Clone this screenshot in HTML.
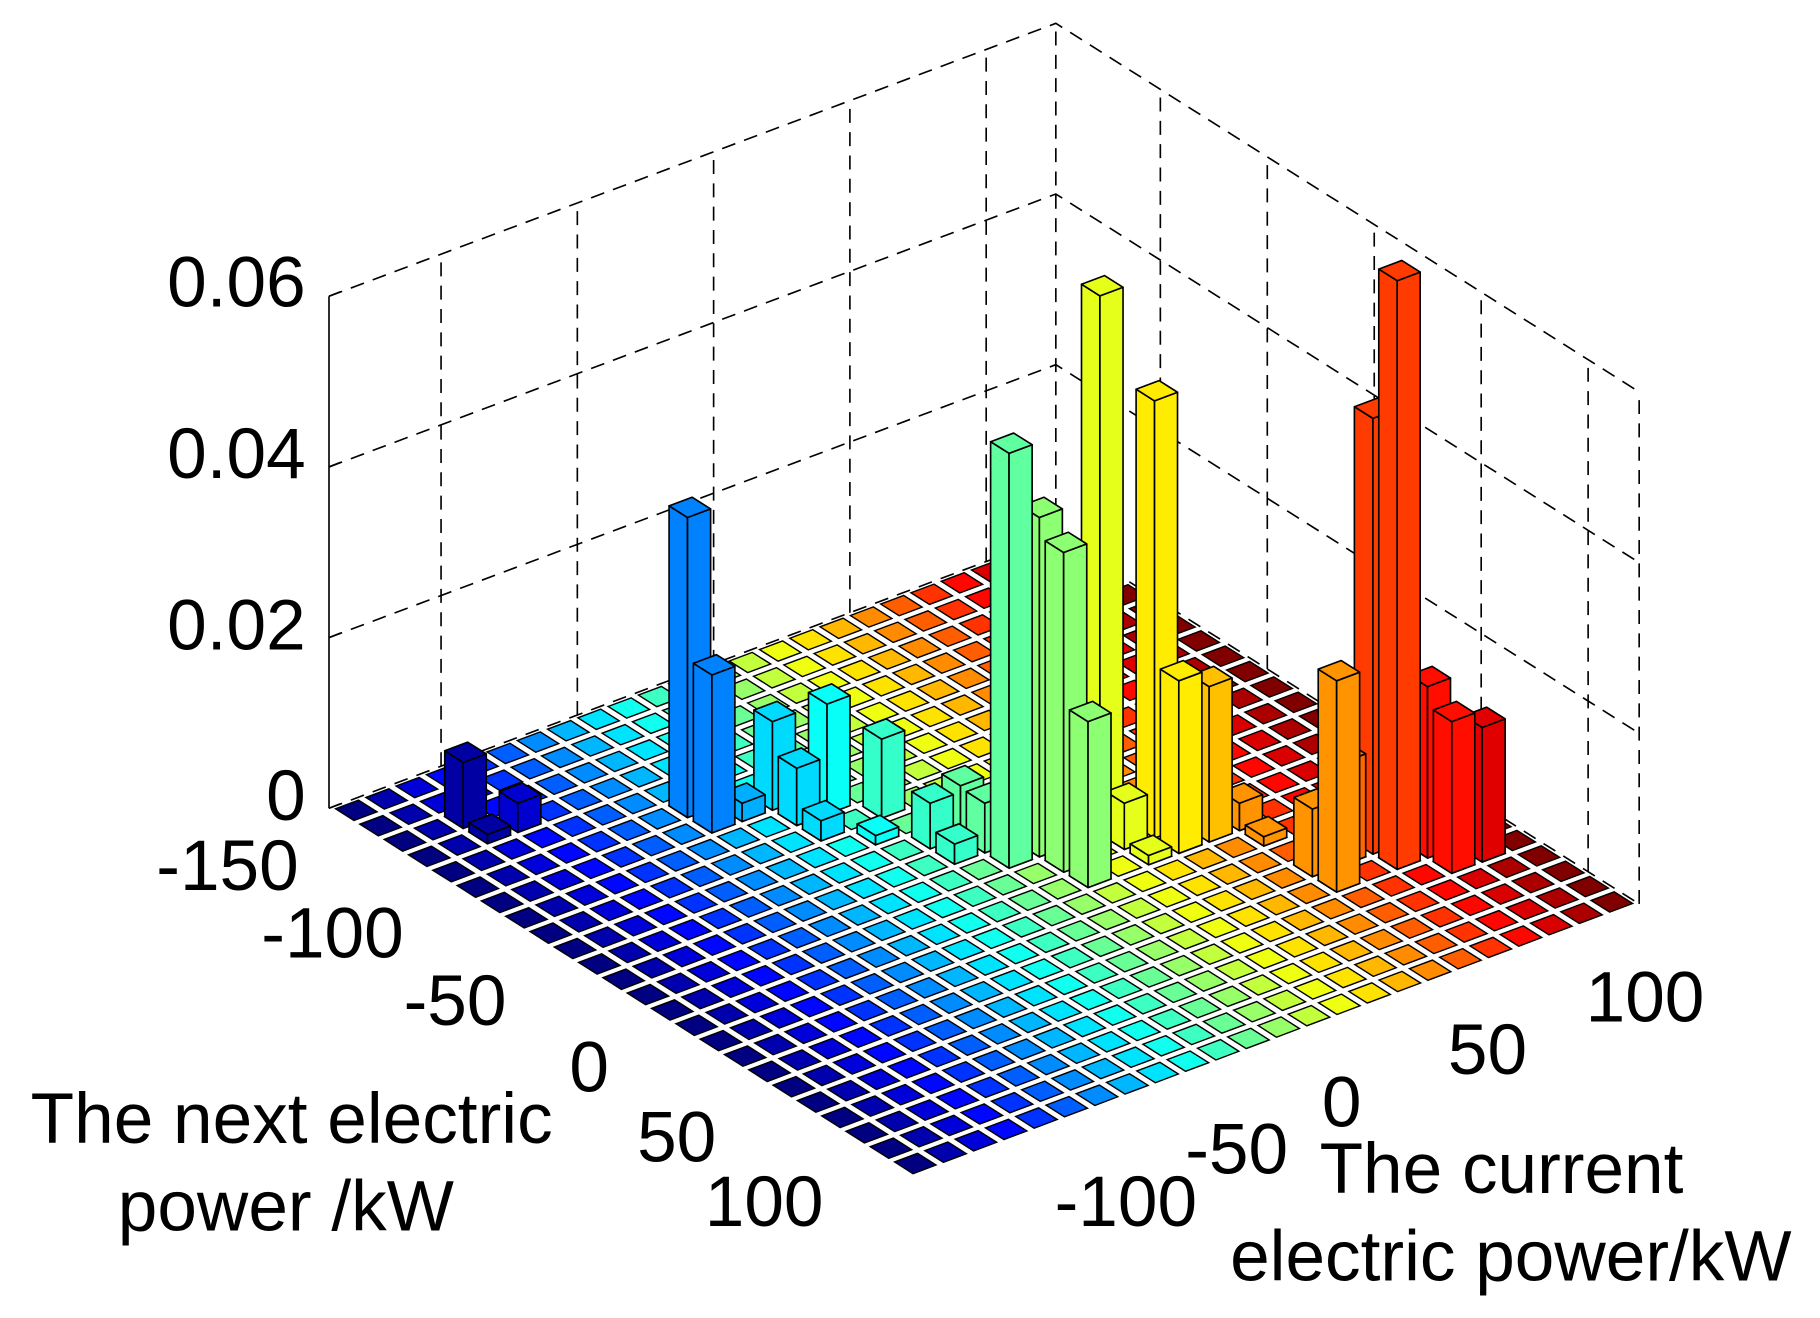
<!DOCTYPE html>
<html><head><meta charset="utf-8">
<style>html,body{margin:0;padding:0;background:#fff;}svg{display:block;}</style>
</head><body>
<svg id="s" xmlns="http://www.w3.org/2000/svg" width="1820" height="1318" viewBox="0 0 1560 1130" preserveAspectRatio="none" font-family="Liberation Sans, Arial, sans-serif">
<rect width="1560" height="1130" fill="#fff"/>
<g id="walls" stroke="#000" stroke-width="1.4" stroke-dasharray="12 8" fill="none"></g>
<g id="tiles" stroke="#000" stroke-width="1.2"></g>
<g id="bars" stroke="#000" stroke-width="1.4" stroke-linejoin="round"></g>
<g id="axis" stroke="#000" stroke-width="1.4"></g>
<g font-size="61" fill="#000">
<text x="262" y="263" text-anchor="end">0.06</text>
<text x="262" y="410" text-anchor="end">0.04</text>
<text x="262" y="557" text-anchor="end">0.02</text>
<text x="262" y="703" text-anchor="end">0</text>
<text x="195" y="763" text-anchor="middle">-150</text>
<text x="285" y="821" text-anchor="middle">-100</text>
<text x="390" y="879" text-anchor="middle">-50</text>
<text x="505" y="936" text-anchor="middle">0</text>
<text x="580" y="996" text-anchor="middle">50</text>
<text x="655" y="1051" text-anchor="middle">100</text>
<text x="965" y="1051" text-anchor="middle">-100</text>
<text x="1060" y="1006" text-anchor="middle">-50</text>
<text x="1150" y="966" text-anchor="middle">0</text>
<text x="1275" y="921" text-anchor="middle">50</text>
<text x="1410" y="876" text-anchor="middle">100</text>
<text x="250" y="980" text-anchor="middle">The next electric</text>
<text x="245" y="1055" text-anchor="middle">power /kW</text>
<text x="1287" y="1023" text-anchor="middle">The current</text>
<text x="1295" y="1098" text-anchor="middle">electric power/kW</text>
</g>
</svg>
<script>
(function(){
var NS="http://www.w3.org/2000/svg";
var N=24, L=[282,693], B=[905,459], F=[782,1009], ZH=439;
var u=[(B[0]-L[0])/N,(B[1]-L[1])/N], v=[(F[0]-L[0])/N,(F[1]-L[1])/N];
function P(i,j,z){return [L[0]+i*u[0]+j*v[0], L[1]+i*u[1]+j*v[1]-(z||0)];}
function el(g,tag,attrs){var e=document.createElementNS(NS,tag);for(var k in attrs)e.setAttribute(k,attrs[k]);document.getElementById(g).appendChild(e);return e;}
function poly(g,pts,fill){el(g,"polygon",{points:pts.map(function(p){return p[0].toFixed(1)+","+p[1].toFixed(1);}).join(" "),fill:fill});}
function line(g,a,b){el(g,"line",{x1:a[0],y1:a[1],x2:b[0],y2:b[1]});}
function cl(x){return Math.max(0,Math.min(1,x));}
function jet(t){t=cl(t);var r=cl(1.5-Math.abs(4*t-3)),g=cl(1.5-Math.abs(4*t-2)),b=cl(1.5-Math.abs(4*t-1));return "rgb("+Math.round(r*255)+","+Math.round(g*255)+","+Math.round(b*255)+")";}
[0,1,2,3].forEach(function(k){var z=ZH*k/3;var a=P(0,0,z),b=P(N,0,z),c=P(N,N,z);el("walls","polyline",{points:a.join(",")+" "+b.join(",")+" "+c.join(",")});});
line("walls",P(N,0,0),P(N,0,ZH));
for(var k=0;k<5;k++){var i=3.7+4.5*k;line("walls",P(i,0,0),P(i,0,ZH));var j=4.3+4.4*k;line("walls",P(N,j,0),P(N,j,ZH));}
line("walls",P(N,N,0),P(N,N,ZH));
line("axis",P(0,0,0),P(0,0,ZH));
for(var k=0;k<4;k++){var z=ZH*k/3;line("axis",P(0,0,z),[P(0,0,z)[0]+10,P(0,0,z)[1]-4]);}
var a=0.12,b=0.88;
for(var i=0;i<N;i++)for(var j=0;j<N;j++){
 poly("tiles",[P(i+a,j+a),P(i+b,j+a),P(i+b,j+b),P(i+a,j+b)],jet(i/(N-1)));
}
var raw=[[2,405,645],[3,445,680],[2,425,715],
[7,590,435],[7,610,570],[8,605,600],[8,635,680],
[9,665,610],[9,690,650],[10,715,595],[9,705,695],[10,745,710],[11,760,625],
[11,790,680],[11,830,715],[12,820,665],[12,855,680],
[12,875,380],[13,890,435],[13,910,465],[13,920,530],[13,935,610],[13,870,735],[13,910,720],
[15,955,245],[16,1000,335],[15,965,680],[15,995,725],[16,1020,575],[17,1045,580],[15,965,765],
[18,1070,680],[18,1080,720],[18,1140,575],[18,1130,685],[19,1160,645],
[20,1200,232],[20,1180,350],[21,1225,580],[21,1255,610],[22,1280,615],[21,1240,680],[21,1215,745]];
var bars={};
raw.forEach(function(r){var i=r[0];var j=Math.round((r[1]-282-u[0]*(i+.5))/v[0]-.5);j=Math.max(0,Math.min(N-1,j));
 var by=L[1]+u[1]*(i+.5)+v[1]*(j+.5);var h=by-r[2];if(h<8)h=8;var key=i+"_"+j;if(!bars[key]||bars[key][2]<h)bars[key]=[i,j,h];});
var list=Object.keys(bars).map(function(k){return bars[k];});
list.sort(function(p,q){return (p[1]-p[0])-(q[1]-q[0]) || (p[1]-q[1]);});
list.forEach(function(r){var i=r[0],j=r[1],h=r[2],c=jet((i-1.2)/(N-1));
 var i0=i+a,i1=i+b,j0=j+a,j1=j+b;
 poly("bars",[P(i0,j0,0),P(i0,j1,0),P(i0,j1,h),P(i0,j0,h)],c);
 poly("bars",[P(i0,j1,0),P(i1,j1,0),P(i1,j1,h),P(i0,j1,h)],c);
 poly("bars",[P(i0,j0,h),P(i1,j0,h),P(i1,j1,h),P(i0,j1,h)],c);
});
})();
</script>
</body></html>
